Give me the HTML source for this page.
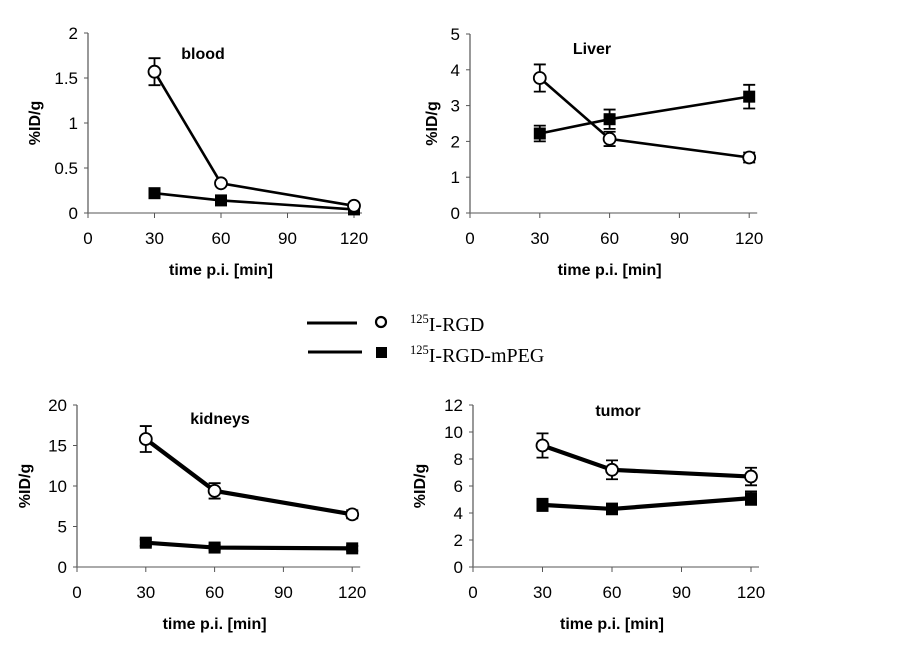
<!DOCTYPE html>
<html><head><meta charset="utf-8"><style>
html,body{margin:0;padding:0;background:#fff;}
svg text{font-family:"Liberation Sans",Arial,sans-serif;fill:#000;}
</style></head><body>
<svg id="s" width="910" height="643" viewBox="0 0 910 643" xmlns="http://www.w3.org/2000/svg">
<g>
<line x1="307" y1="323" x2="357" y2="323" stroke="#000" stroke-width="3"/>
<circle cx="381" cy="322" r="5" fill="#fff" stroke="#000" stroke-width="2.2"/>
<text x="410" y="331" style="font-family:'Liberation Serif',serif;font-size:20px"><tspan font-size="12.5" dy="-8">125</tspan><tspan dy="8">I-RGD</tspan></text>
<line x1="308" y1="352" x2="362" y2="352" stroke="#000" stroke-width="3"/>
<rect x="376" y="347" width="11" height="11" fill="#000"/>
<text x="410" y="362" style="font-family:'Liberation Serif',serif;font-size:20px"><tspan font-size="12.5" dy="-8">125</tspan><tspan dy="8">I-RGD-mPEG</tspan></text>
</g>
</svg>
<script>
const s=document.getElementById('s');let h='';
function P(o){
 const X=v=>o.x0+(v===120?4:v/30)*o.dx;
 const Y=v=>o.y0-(v/o.ymax)*(o.y0-o.y1);
 const xe=o.x0+4*o.dx+8;
 h+=`<line x1="${o.x0}" y1="${o.y1}" x2="${o.x0}" y2="${o.y0}" stroke="#555" stroke-width="1.2"/>`;
 h+=`<line x1="${o.x0}" y1="${o.y0}" x2="${xe}" y2="${o.y0}" stroke="#777" stroke-width="1.2"/>`;
 for(let i=0;i<=o.n;i++){const v=o.ymax*i/o.n,y=Y(v);
  h+=`<line x1="${o.x0-4}" y1="${y}" x2="${o.x0}" y2="${y}" stroke="#555"/>`;
  h+=`<text x="${o.x0-10}" y="${y+6}" font-size="17" text-anchor="end">${o.lab[i]}</text>`;}
 [0,30,60,90,120].forEach((v,i)=>{const x=o.x0+i*o.dx;
  h+=`<line x1="${x}" y1="${o.y0}" x2="${x}" y2="${o.y0+5}" stroke="#555"/>`;
  h+=`<text x="${x}" y="${o.y0+31}" font-size="17" text-anchor="middle">${v}</text>`;});
 h+=`<text x="${o.x0+2*o.dx}" y="${o.y0+62}" font-size="16" font-weight="bold" text-anchor="middle">time p.i. [min]</text>`;
 const cy=(o.y0+o.y1)/2;
 h+=`<text transform="translate(${o.yl},${cy}) rotate(-90)" font-size="16" font-weight="bold" text-anchor="middle">%ID/g</text>`;
 h+=`<text x="${o.tx}" y="${o.ty}" font-size="16" font-weight="bold" text-anchor="middle">${o.title}</text>`;
 const t=[30,60,120];
 [o.f,o.o].forEach((d,k)=>{
  h+=`<polyline points="${t.map((v,i)=>X(v)+','+Y(d[i][0])).join(' ')}" fill="none" stroke="#000" stroke-width="${o.lw}"/>`;
 });
 [o.f,o.o].forEach((d,k)=>{
  t.forEach((v,i)=>{const x=X(v),y=Y(d[i][0]);
   if(d[i][1]){const a=Y(d[i][0]-d[i][1]),b=Y(d[i][0]+d[i][1]);
    h+=`<path d="M${x} ${a}V${b}M${x-6} ${a}H${x+6}M${x-6} ${b}H${x+6}" stroke="#000" stroke-width="1.8" fill="none"/>`;}
   if(k==1)h+=`<circle cx="${x}" cy="${y}" r="6" fill="#fff" stroke="#000" stroke-width="1.8"/>`;
   else h+=`<rect x="${x-6}" y="${y-6}" width="12" height="12" fill="#000"/>`;
  });
 });
}
P({x0:88,dx:66.5,y0:213,y1:33,ymax:2,n:4,lab:['0','0.5','1','1.5','2'],yl:40,tx:203,ty:59,title:'blood',lw:2.6,
 o:[[1.57,0.15],[0.33,0],[0.08,0]],f:[[0.22,0],[0.14,0],[0.04,0]]});
P({x0:470,dx:69.8,y0:213,y1:34,ymax:5,n:5,lab:['0','1','2','3','4','5'],yl:437,tx:592,ty:54,title:'Liver',lw:2.6,
 o:[[3.77,0.38],[2.07,0.2],[1.55,0.14]],f:[[2.22,0.22],[2.62,0.27],[3.25,0.33]]});
P({x0:77,dx:68.8,y0:567,y1:405,ymax:20,n:4,lab:['0','5','10','15','20'],yl:30,tx:220,ty:424,title:'kidneys',lw:4.2,
 o:[[15.8,1.6],[9.4,0.95],[6.5,0.5]],f:[[3.0,0.4],[2.4,0.35],[2.3,0.3]]});
P({x0:473,dx:69.5,y0:567,y1:405,ymax:12,n:6,lab:['0','2','4','6','8','10','12'],yl:425,tx:618,ty:416,title:'tumor',lw:4.2,
 o:[[9.0,0.9],[7.2,0.7],[6.7,0.65]],f:[[4.6,0.45],[4.3,0.4],[5.1,0.5]]});
s.insertAdjacentHTML('beforeend',h);
</script>
</body></html>
